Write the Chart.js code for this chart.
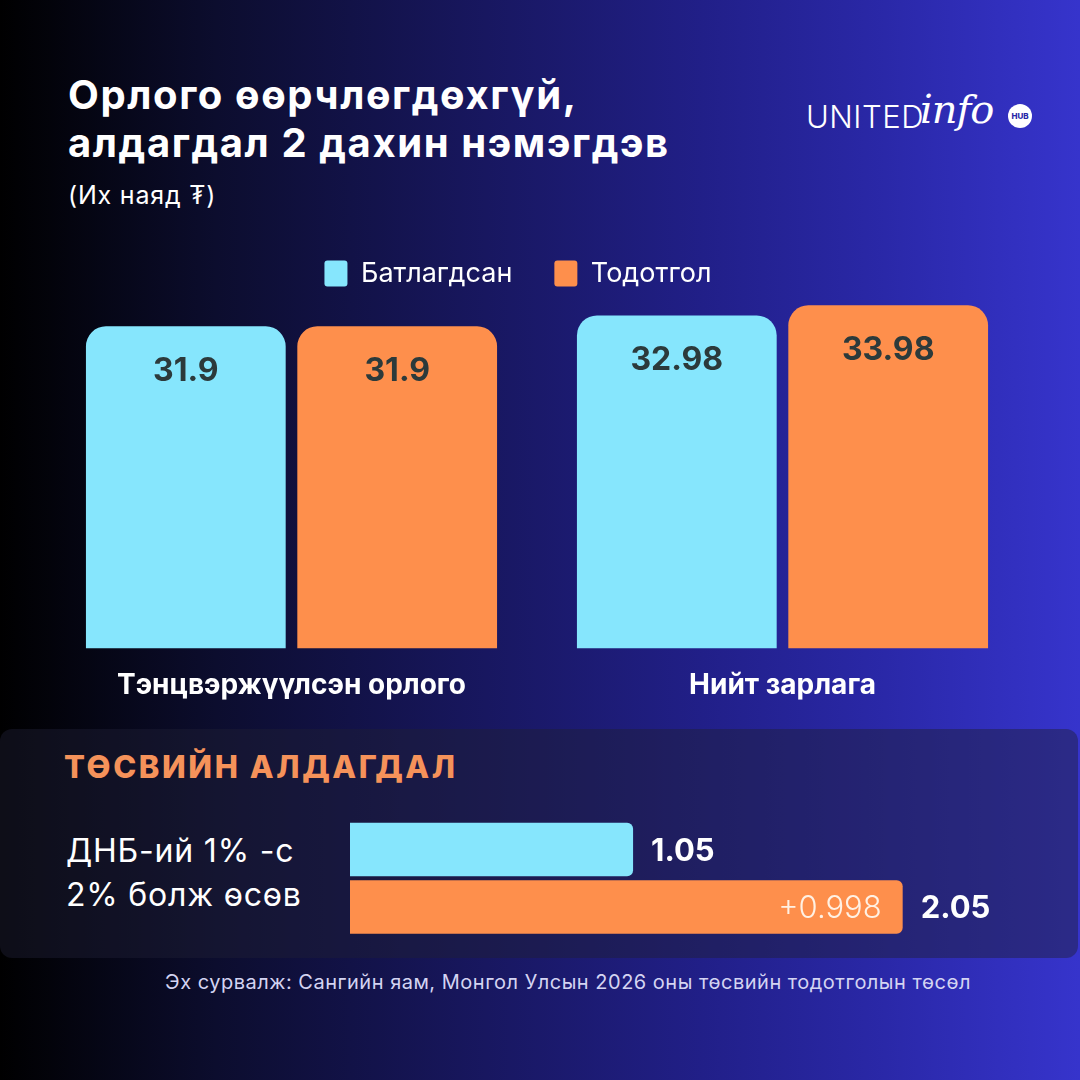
<!DOCTYPE html>
<html>
<head>
<meta charset="utf-8">
<script src="https://cdn.jsdelivr.net/npm/chart.js@4.4.1/dist/chart.umd.min.js"></script>
<style>
  html, body { margin: 0; padding: 0; }
  body { width: 1080px; height: 1080px; position: relative; overflow: hidden;
    background: linear-gradient(90deg, #000000 0%, #0c0d2e 20%, #181760 45%, #211f88 65%, #2a28a8 82%, #3634cc 100%);
    font-family: Inter, "Noto Sans", sans-serif; color: #fff; }
  .abs { position: absolute; }
  #title { left: 68px; top: 71px; font-size: 40px; font-weight: 700; line-height: 48px; letter-spacing: 1.6px; }
  #unit { left: 68px; top: 180px; font-size: 25px; font-weight: 400; letter-spacing: 0.8px; }
  #logo { left: 806px; top: 92px; height: 50px; }
  #logo .u { position: absolute; left: 0; top: 6px; font-size: 31px; font-weight: 300; letter-spacing: 0.5px; }
  #logo .i { position: absolute; left: 114px; top: -6px; font-family: "DejaVu Serif", serif; font-style: italic; font-size: 40px; font-weight: 400; letter-spacing: -1px; }
  #logo .h { position: absolute; left: 202px; top: 12px; width: 24px; height: 24px; border-radius: 50%; background: #fff; color: #2a28a8; font-size: 8px; font-weight: 800; text-align: center; line-height: 24px; }
  #panel { left: 0; top: 729px; width: 1078px; height: 229px; border-radius: 12px; background: rgba(32,32,53,0.45); }
  #ph { left: 64px; top: 748px; font-size: 31px; font-weight: 800; color: #f5925a; letter-spacing: 2.6px; }
  #pl { left: 66px; top: 829px; font-size: 32px; font-weight: 400; line-height: 44px; letter-spacing: 0.8px; }
  #src { left: 0; width: 1136px; top: 970px; text-align: center; font-size: 20px; color: #d4d4f2; letter-spacing: 0.5px; }
  #c1wrap { left: 0; top: 218px; width: 1036px; height: 504px; }
  #c2wrap { left: 0; top: 800px; width: 1080px; height: 160px; }
</style>
</head>
<body>
<div id="title" class="abs">Орлого өөрчлөгдөхгүй,<br>алдагдал 2 дахин нэмэгдэв</div>
<div id="unit" class="abs">(Их наяд ₮)</div>
<div id="logo" class="abs"><span class="u">UNITED</span><span class="i">info</span><span class="h">HUB</span></div>
<div id="panel" class="abs"></div>
<div id="ph" class="abs">ТӨСВИЙН АЛДАГДАЛ</div>
<div id="pl" class="abs">ДНБ-ий 1% -с<br>2% болж өсөв</div>
<div id="src" class="abs">Эх сурвалж: Сангийн яам, Монгол Улсын 2026 оны төсвийн тодотголын төсөл</div>
<div id="c1wrap" class="abs"><canvas id="c1"></canvas></div>
<div id="c2wrap" class="abs"><canvas id="c2"></canvas></div>
<script>
// ---- data ----
const categories = ['Тэнцвэржүүлсэн орлого', 'Нийт зарлага'];
const seriesNames = ['Батлагдсан', 'Тодотгол'];
const approved = [31.9, 32.98];
const revised = [31.9, 33.98];
const deficitLabels = ['ДНБ-ий 1%', '2%'];
const deficitValues = [1.05, 2.05];
const deficitDelta = ['', '+0.998'];

const CYAN = '#86e6fd';
const ORANGE = '#fe8f4c';
const FONT = 'Inter, "Noto Sans", sans-serif';

const barValueLabels = {
  id: 'barValueLabels',
  afterDatasetsDraw(chart) {
    const ctx = chart.ctx;
    ctx.save();
    ctx.font = '700 32px ' + FONT;
    ctx.fillStyle = '#2c3a3b';
    ctx.textAlign = 'center';
    ctx.textBaseline = 'middle';
    chart.data.datasets.forEach((ds, di) => {
      chart.getDatasetMeta(di).data.forEach((bar, i) => {
        ctx.fillText(String(ds.data[i]), bar.x, bar.y + 45);
      });
    });
    ctx.restore();
  }
};

new Chart(document.getElementById('c1'), {
  type: 'bar',
  data: {
    labels: categories,
    datasets: [
      { label: seriesNames[0], data: approved, backgroundColor: CYAN },
      { label: seriesNames[1], data: revised, backgroundColor: ORANGE }
    ]
  },
  options: {
    responsive: true,
    maintainAspectRatio: false,
    animation: false,
    layout: { padding: { left: 8, right: 8, top: 0, bottom: 0 } },
    datasets: { bar: { categoryPercentage: 0.861, barPercentage: 0.945, borderRadius: 20, borderSkipped: 'start' } },
    plugins: {
      legend: {
        position: 'top',
        maxHeight: 77,
        labels: {
          color: '#ffffff',
          font: { size: 27, family: FONT, weight: '400' },
          boxWidth: 23, boxHeight: 26, useBorderRadius: true, borderRadius: 3,
          padding: 42
        }
      },
      tooltip: { enabled: false }
    },
    scales: {
      x: {
        grid: { display: false, drawTicks: false },
        border: { display: false },
        ticks: { color: '#ffffff', padding: 20, font: { size: 28, weight: '700', family: FONT } }
      },
      y: {
        min: 0, max: 35,
        grid: { display: false, drawTicks: false },
        border: { display: false },
        ticks: { display: false },
        afterFit(scale) { scale.width = 38; }
      }
    }
  },
  plugins: [barValueLabels]
});

const hbarLabels = {
  id: 'hbarLabels',
  afterDatasetsDraw(chart) {
    const ctx = chart.ctx;
    ctx.save();
    ctx.textBaseline = 'middle';
    const meta = chart.getDatasetMeta(0);
    const ds = chart.data.datasets[0];
    meta.data.forEach((bar, i) => {
      ctx.font = '700 31px ' + FONT;
      ctx.fillStyle = '#ffffff';
      ctx.textAlign = 'left';
      ctx.fillText(ds.data[i].toFixed(2), bar.x + 18, bar.y + 2);
      if (deficitDelta[i]) {
        ctx.font = '300 31px ' + FONT;
        ctx.fillStyle = '#fff1e4';
        ctx.textAlign = 'right';
        ctx.fillText(deficitDelta[i], bar.x - 21, bar.y + 2);
      }
    });
    ctx.restore();
  }
};

new Chart(document.getElementById('c2'), {
  type: 'bar',
  data: {
    labels: deficitLabels,
    datasets: [{ data: deficitValues, backgroundColor: [CYAN, ORANGE], borderRadius: 6, borderSkipped: 'start', categoryPercentage: 1, barPercentage: 0.93 }]
  },
  options: {
    indexAxis: 'y',
    responsive: true,
    maintainAspectRatio: false,
    animation: false,
    layout: { padding: { left: 350, right: 56, top: 20.75, bottom: 24.25 } },
    plugins: { legend: { display: false }, tooltip: { enabled: false } },
    scales: {
      x: { display: false, min: 0, max: 2.5 },
      y: { display: false }
    }
  },
  plugins: [hbarLabels]
});
</script>
</body>
</html>
